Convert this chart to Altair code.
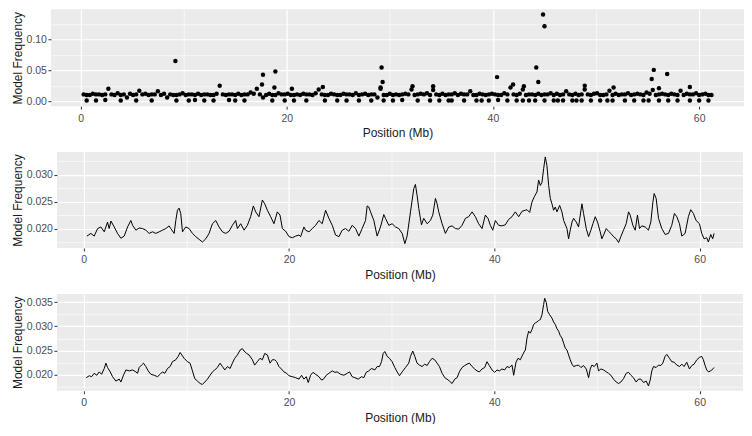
import altair as alt
import pandas as pd

FONT = "Liberation Sans"

X_MAJOR = [0, 20, 40, 60]
X_MINOR = [10, 30, 50]

# ---------------- panel 1 : per-SNP model frequency (points) ----------------
SNP_POS = [
    0.3, 0.6, 0.9, 1.2, 1.5, 1.8, 2.1, 2.4, 2.7, 3.0,
    3.3, 3.6, 3.9, 4.2, 4.5, 4.8, 5.1, 5.4, 5.7, 6.0,
    6.3, 6.6, 6.9, 7.2, 7.5, 7.8, 8.1, 8.4, 8.7, 9.0,
    9.3, 9.6, 9.9, 10.2, 10.5, 10.8, 11.1, 11.4, 11.7, 12.0,
    12.3, 12.6, 12.9, 13.2, 13.5, 13.8, 14.1, 14.4, 14.7, 15.0,
    15.3, 15.6, 15.9, 16.2, 16.5, 16.8, 17.1, 17.4, 17.7, 18.0,
    18.3, 18.6, 18.9, 19.2, 19.5, 19.8, 20.1, 20.4, 20.7, 21.0,
    21.3, 21.6, 21.9, 22.2, 22.5, 22.8, 23.1, 23.4, 23.7, 24.0,
    24.3, 24.6, 24.9, 25.2, 25.5, 25.8, 26.1, 26.4, 26.7, 27.0,
    27.3, 27.6, 27.9, 28.2, 28.5, 28.8, 29.1, 29.4, 29.7, 30.0,
    30.3, 30.6, 30.9, 31.2, 31.5, 31.8, 32.1, 32.4, 32.7, 33.0,
    33.3, 33.6, 33.9, 34.2, 34.5, 34.8, 35.1, 35.4, 35.7, 36.0,
    36.3, 36.6, 36.9, 37.2, 37.5, 37.8, 38.1, 38.4, 38.7, 39.0,
    39.3, 39.6, 39.9, 40.2, 40.5, 40.8, 41.1, 41.4, 41.7, 42.0,
    42.3, 42.6, 42.9, 43.2, 43.5, 43.8, 44.1, 44.4, 44.7, 45.0,
    45.3, 45.6, 45.9, 46.2, 46.5, 46.8, 47.1, 47.4, 47.7, 48.0,
    48.3, 48.6, 48.9, 49.2, 49.5, 49.8, 50.1, 50.4, 50.7, 51.0,
    51.3, 51.6, 51.9, 52.2, 52.5, 52.8, 53.1, 53.4, 53.7, 54.0,
    54.3, 54.6, 54.9, 55.2, 55.5, 55.8, 56.1, 56.4, 56.7, 57.0,
    57.3, 57.6, 57.9, 58.2, 58.5, 58.8, 59.1, 59.4, 59.7, 60.0,
    60.3, 60.6, 60.9, 61.2,
]
SNP_FREQ = [
    0.011, 0.010, 0.010, 0.012, 0.011, 0.011, 0.010, 0.011, 0.020, 0.011,
    0.010, 0.013, 0.010, 0.011, 0.006, 0.012, 0.010, 0.011, 0.017, 0.011,
    0.012, 0.010, 0.011, 0.011, 0.016, 0.010, 0.012, 0.006, 0.011, 0.010,
    0.010, 0.011, 0.013, 0.010, 0.011, 0.011, 0.010, 0.012, 0.010, 0.011,
    0.011, 0.010, 0.010, 0.012, 0.025, 0.011, 0.010, 0.011, 0.011, 0.010,
    0.012, 0.010, 0.011, 0.011, 0.014, 0.012, 0.020, 0.011, 0.006, 0.010,
    0.012, 0.010, 0.010, 0.013, 0.011, 0.011, 0.012, 0.010, 0.010, 0.011,
    0.010, 0.012, 0.011, 0.011, 0.010, 0.013, 0.019, 0.011, 0.010, 0.010,
    0.012, 0.011, 0.010, 0.010, 0.012, 0.011, 0.011, 0.010, 0.013, 0.010,
    0.011, 0.012, 0.010, 0.011, 0.011, 0.006, 0.020, 0.010, 0.010, 0.012,
    0.010, 0.011, 0.010, 0.011, 0.012, 0.011, 0.019, 0.010, 0.011, 0.012,
    0.011, 0.013, 0.010, 0.018, 0.011, 0.010, 0.012, 0.010, 0.011, 0.011,
    0.013, 0.010, 0.012, 0.011, 0.011, 0.016, 0.010, 0.010, 0.012, 0.011,
    0.010, 0.011, 0.012, 0.011, 0.010, 0.010, 0.013, 0.011, 0.022, 0.011,
    0.010, 0.012, 0.019, 0.010, 0.011, 0.011, 0.010, 0.012, 0.010, 0.011,
    0.011, 0.013, 0.010, 0.012, 0.010, 0.011, 0.016, 0.011, 0.010, 0.012,
    0.010, 0.011, 0.019, 0.011, 0.010, 0.012, 0.013, 0.010, 0.010, 0.011,
    0.017, 0.010, 0.012, 0.010, 0.011, 0.011, 0.013, 0.010, 0.011, 0.012,
    0.011, 0.010, 0.014, 0.012, 0.018, 0.010, 0.011, 0.012, 0.011, 0.010,
    0.012, 0.011, 0.010, 0.017, 0.010, 0.012, 0.011, 0.011, 0.013, 0.010,
    0.011, 0.012, 0.010, 0.010,
]
# SNPs sitting near zero (the lower row of dots)
SNP_LOW = [
    (0.6, 0.001), (1.5, 0.001), (2.4, 0.002), (3.9, 0.001), (5.4, 0.001),
    (6.9, 0.001), (9.3, 0.001), (10.5, 0.001), (11.1, 0.002), (12.0, 0.001),
    (12.9, 0.001), (14.4, 0.002), (15.0, 0.001), (15.9, 0.001), (18.6, 0.001),
    (19.8, 0.001), (20.7, 0.001), (21.9, 0.001), (23.7, 0.001), (24.9, 0.001),
    (25.8, 0.001), (27.0, 0.001), (28.2, 0.001), (29.4, 0.001), (30.3, 0.001),
    (31.2, 0.002), (32.7, 0.001), (33.9, 0.001), (34.8, 0.001), (35.7, 0.001),
    (36.0, 0.001), (37.2, 0.001), (38.4, 0.001), (38.9, 0.001), (39.6, 0.001),
    (40.5, 0.002), (41.4, 0.001), (42.3, 0.001), (42.9, 0.001), (43.5, 0.001),
    (44.1, 0.001), (45.0, 0.001), (45.9, 0.001), (46.3, 0.001), (46.8, 0.001),
    (47.7, 0.001), (48.1, 0.001), (48.6, 0.001), (49.5, 0.001), (50.4, 0.001),
    (51.1, 0.001), (51.6, 0.001), (52.8, 0.001), (53.7, 0.001), (54.6, 0.001),
    (55.1, 0.001), (56.1, 0.001), (57.0, 0.001), (57.9, 0.001), (59.1, 0.001),
    (60.0, 0.001), (60.9, 0.001),
]
SNP_EXTRA = [
    (9.2, 0.065), (17.7, 0.0426), (17.6, 0.027), (18.9, 0.048), (18.8, 0.022),
    (29.2, 0.0543), (29.3, 0.031), (29.1, 0.022), (40.4, 0.0389), (41.95, 0.027),
    (43.0, 0.024), (44.2, 0.0543), (44.4, 0.031), (44.86, 0.140), (45.0, 0.121),
    (55.4, 0.036), (55.6, 0.0506), (56.9, 0.044), (32.2, 0.024), (34.2, 0.024),
    (23.5, 0.023), (48.9, 0.025), (51.7, 0.022), (56.1, 0.021), (20.5, 0.020),
    (59.1, 0.023),
]

# ---------------- panel 2 : smoothed frequency (narrow window) ----------------
PANEL2 = [
    (0.31, 0.0186), (0.70, 0.0191), (1.02, 0.0186), (1.35, 0.0200), (1.67, 0.0203),
    (2.00, 0.0194), (2.32, 0.0212), (2.48, 0.0200), (2.65, 0.0214), (2.97, 0.0203),
    (3.29, 0.0191), (3.62, 0.0182), (3.94, 0.0186), (4.27, 0.0203), (4.59, 0.0215),
    (4.76, 0.0206), (5.08, 0.0197), (5.40, 0.0201), (5.73, 0.0200), (6.05, 0.0197),
    (6.37, 0.0191), (6.70, 0.0194), (7.02, 0.0191), (7.35, 0.0194), (7.67, 0.0197),
    (8.00, 0.0200), (8.32, 0.0205), (8.48, 0.0200), (8.81, 0.0191), (8.97, 0.0215),
    (9.13, 0.0234), (9.29, 0.0238), (9.45, 0.0228), (9.62, 0.0194), (9.94, 0.0203),
    (10.27, 0.0200), (10.59, 0.0191), (10.91, 0.0185), (11.24, 0.0180), (11.56, 0.0175),
    (11.89, 0.0181), (12.21, 0.0191), (12.54, 0.0209), (12.86, 0.0215), (13.18, 0.0203),
    (13.51, 0.0194), (13.83, 0.0191), (14.16, 0.0195), (14.48, 0.0206), (14.80, 0.0215),
    (14.97, 0.0200), (15.29, 0.0209), (15.62, 0.0197), (15.94, 0.0206), (16.26, 0.0222),
    (16.52, 0.0242), (16.75, 0.0231), (17.07, 0.0222), (17.40, 0.0253), (17.63, 0.0246),
    (17.89, 0.0234), (18.21, 0.0222), (18.53, 0.0209), (18.86, 0.0231), (19.12, 0.0225),
    (19.35, 0.0200), (19.67, 0.0195), (20.00, 0.0185), (20.32, 0.0183), (20.64, 0.0186),
    (20.97, 0.0188), (21.13, 0.0185),
    (21.45, 0.0203), (21.61, 0.0197), (21.94, 0.0194), (22.26, 0.0200), (22.59, 0.0206),
    (22.91, 0.0215), (23.23, 0.0209), (23.56, 0.0234), (23.88, 0.0219), (24.21, 0.0206),
    (24.53, 0.0188), (24.86, 0.0185), (25.18, 0.0197), (25.50, 0.0200), (25.83, 0.0195),
    (26.15, 0.0206), (26.48, 0.0200), (26.80, 0.0186), (27.12, 0.0200), (27.45, 0.0215),
    (27.61, 0.0242), (27.77, 0.0240), (27.94, 0.0231), (28.26, 0.0215), (28.58, 0.0186),
    (28.91, 0.0203), (29.23, 0.0226), (29.39, 0.0219), (29.72, 0.0206), (30.04, 0.0209),
    (30.37, 0.0203), (30.69, 0.0200), (31.02, 0.0191), (31.28, 0.0172), (31.50, 0.0186),
    (31.83, 0.0231), (32.15, 0.0274), (32.31, 0.0282), (32.47, 0.0262), (32.64, 0.0237),
    (32.90, 0.0207), (33.12, 0.0219), (33.45, 0.0209), (33.77, 0.0215), (34.00, 0.0225),
    (34.26, 0.0256), (34.42, 0.0246), (34.58, 0.0231), (34.91, 0.0209), (35.23, 0.0191),
    (35.56, 0.0203), (35.88, 0.0205), (36.20, 0.0200), (36.53, 0.0199), (36.85, 0.0206),
    (37.18, 0.0219), (37.50, 0.0222), (37.83, 0.0231), (38.15, 0.0222), (38.47, 0.0209),
    (38.80, 0.0200), (39.12, 0.0225), (39.38, 0.0219), (39.61, 0.0206), (39.84, 0.0197),
    (40.10, 0.0215), (40.42, 0.0206), (40.74, 0.0205), (41.07, 0.0207), (41.39, 0.0217),
    (41.72, 0.0222), (42.04, 0.0231), (42.37, 0.0222), (42.69, 0.0232), (43.01, 0.0234),
    (43.18, 0.0235), (43.44, 0.0230), (43.66, 0.0249), (43.89, 0.0259), (44.15, 0.0268),
    (44.31, 0.0290), (44.48, 0.0280), (44.64, 0.0286), (44.80, 0.0311), (44.96, 0.0333),
    (45.12, 0.0317), (45.29, 0.0280), (45.45, 0.0256), (45.61, 0.0246), (45.77, 0.0234),
    (45.93, 0.0240), (46.10, 0.0231), (46.36, 0.0243), (46.58, 0.0231), (46.75, 0.0215),
    (47.07, 0.0200), (47.23, 0.0181), (47.39, 0.0197), (47.56, 0.0212), (47.72, 0.0219),
    (47.98, 0.0212), (48.20, 0.0203), (48.53, 0.0246), (48.69, 0.0228), (48.95, 0.0200),
    (49.18, 0.0185), (49.40, 0.0197), (49.60, 0.0209), (49.83, 0.0222), (50.05, 0.0212),
    (50.31, 0.0194), (50.47, 0.0181), (50.64, 0.0188), (50.90, 0.0200), (51.12, 0.0195),
    (51.35, 0.0191), (51.61, 0.0185), (51.87, 0.0181), (52.10, 0.0174), (52.32, 0.0185),
    (52.58, 0.0197), (52.84, 0.0209), (53.07, 0.0231), (53.23, 0.0225), (53.49, 0.0206),
    (53.72, 0.0197), (53.94, 0.0225), (54.14, 0.0200), (54.36, 0.0205), (54.69, 0.0203),
    (55.01, 0.0197), (55.24, 0.0212), (55.44, 0.0249), (55.57, 0.0265), (55.76, 0.0256),
    (55.99, 0.0219), (56.31, 0.0200), (56.64, 0.0189), (56.96, 0.0191), (57.28, 0.0206),
    (57.54, 0.0228), (57.77, 0.0222), (58.03, 0.0209), (58.26, 0.0186), (58.58, 0.0191),
    (58.90, 0.0222), (59.13, 0.0235), (59.39, 0.0228), (59.65, 0.0215), (59.98, 0.0209),
    (60.20, 0.0191), (60.43, 0.0181), (60.69, 0.0183), (60.85, 0.0175), (61.08, 0.0189),
    (61.27, 0.0181), (61.40, 0.0191),
]

# ---------------- panel 3 : smoothed frequency (wide window) ----------------
PANEL3 = [
    (0.25, 0.0194), (0.54, 0.0198), (0.77, 0.0196), (1.02, 0.0203), (1.28, 0.0199),
    (1.51, 0.0206), (1.74, 0.0201), (2.00, 0.0213), (2.16, 0.0224), (2.32, 0.0215),
    (2.58, 0.0206), (2.81, 0.0196), (3.13, 0.0187), (3.46, 0.0191), (3.62, 0.0185),
    (3.87, 0.0199), (4.11, 0.0210), (4.43, 0.0208), (4.75, 0.0210), (5.08, 0.0206),
    (5.24, 0.0203), (5.40, 0.0215), (5.63, 0.0220), (5.82, 0.0224), (6.05, 0.0217),
    (6.28, 0.0208), (6.54, 0.0201), (6.86, 0.0199), (7.19, 0.0196), (7.44, 0.0201),
    (7.67, 0.0206), (7.90, 0.0203), (8.16, 0.0213), (8.42, 0.0217), (8.64, 0.0227),
    (8.97, 0.0231), (9.20, 0.0238), (9.39, 0.0246), (9.55, 0.0241), (9.78, 0.0234),
    (10.10, 0.0227), (10.36, 0.0224), (10.59, 0.0208), (10.82, 0.0192), (11.08, 0.0187),
    (11.34, 0.0182), (11.56, 0.0180), (11.79, 0.0185), (12.05, 0.0191), (12.31, 0.0199),
    (12.54, 0.0206), (12.76, 0.0210), (13.02, 0.0215), (13.28, 0.0224), (13.51, 0.0217),
    (13.74, 0.0210), (14.00, 0.0217), (14.26, 0.0213), (14.48, 0.0224), (14.71, 0.0234),
    (14.97, 0.0241), (15.23, 0.0251), (15.45, 0.0254), (15.62, 0.0249), (15.88, 0.0244),
    (16.10, 0.0241), (16.43, 0.0231), (16.65, 0.0220), (16.91, 0.0227), (17.17, 0.0234),
    (17.40, 0.0231), (17.63, 0.0244), (17.89, 0.0241), (18.15, 0.0224), (18.37, 0.0231),
    (18.60, 0.0231), (18.79, 0.0227), (19.02, 0.0217), (19.25, 0.0212), (19.50, 0.0206),
    (19.77, 0.0203), (19.99, 0.0198), (20.32, 0.0196), (20.64, 0.0194), (20.97, 0.0191),
    (21.22, 0.0199), (21.45, 0.0191), (21.68, 0.0196), (21.87, 0.0184), (22.10, 0.0199),
    (22.33, 0.0205), (22.59, 0.0201), (22.91, 0.0196), (23.17, 0.0189), (23.40, 0.0192),
    (23.62, 0.0199), (23.88, 0.0203), (24.21, 0.0208), (24.47, 0.0205), (24.69, 0.0206),
    (25.02, 0.0201), (25.34, 0.0199), (25.67, 0.0203), (25.89, 0.0206), (26.15, 0.0196),
    (26.41, 0.0194), (26.74, 0.0191), (27.06, 0.0196), (27.29, 0.0194), (27.51, 0.0205),
    (27.77, 0.0208), (28.03, 0.0213), (28.36, 0.0210), (28.58, 0.0217), (28.81, 0.0217),
    (29.01, 0.0227), (29.17, 0.0244), (29.33, 0.0248), (29.56, 0.0238), (29.78, 0.0234),
    (30.04, 0.0227), (30.30, 0.0215), (30.53, 0.0206), (30.76, 0.0198), (31.02, 0.0206),
    (31.34, 0.0215), (31.66, 0.0224), (31.83, 0.0238), (32.05, 0.0249), (32.25, 0.0238),
    (32.47, 0.0224), (32.70, 0.0220), (32.96, 0.0217), (33.22, 0.0222), (33.45, 0.0219),
    (33.67, 0.0227), (33.93, 0.0234), (34.19, 0.0231), (34.42, 0.0224), (34.65, 0.0217),
    (34.91, 0.0203), (35.17, 0.0194), (35.39, 0.0191), (35.62, 0.0187), (35.88, 0.0182),
    (36.14, 0.0191), (36.37, 0.0194), (36.59, 0.0206), (36.85, 0.0215), (37.11, 0.0219),
    (37.34, 0.0222), (37.57, 0.0224), (37.83, 0.0217), (38.08, 0.0212), (38.31, 0.0208),
    (38.54, 0.0206), (38.80, 0.0212), (39.06, 0.0215), (39.28, 0.0227), (39.51, 0.0219),
    (39.77, 0.0210), (40.03, 0.0205), (40.26, 0.0210), (40.48, 0.0208), (40.74, 0.0212),
    (41.00, 0.0210), (41.23, 0.0217), (41.46, 0.0215), (41.72, 0.0220), (41.88, 0.0199),
    (42.11, 0.0226), (42.30, 0.0234), (42.53, 0.0231), (42.75, 0.0241), (42.95, 0.0249),
    (43.02, 0.0251), (43.18, 0.0276), (43.34, 0.0290), (43.50, 0.0286), (43.66, 0.0293),
    (43.83, 0.0304), (43.99, 0.0307), (44.15, 0.0309), (44.31, 0.0312), (44.48, 0.0314),
    (44.64, 0.0324), (44.80, 0.0345), (44.90, 0.0358), (45.06, 0.0349), (45.19, 0.0331),
    (45.38, 0.0324), (45.61, 0.0317), (45.77, 0.0309), (45.93, 0.0304), (46.10, 0.0295),
    (46.26, 0.0290), (46.42, 0.0281), (46.58, 0.0276), (46.75, 0.0265), (46.91, 0.0255),
    (47.07, 0.0251), (47.23, 0.0241), (47.39, 0.0231), (47.56, 0.0222), (47.72, 0.0217),
    (47.98, 0.0219), (48.20, 0.0220), (48.43, 0.0215), (48.69, 0.0219), (48.95, 0.0212),
    (49.18, 0.0194), (49.34, 0.0212), (49.50, 0.0220), (49.73, 0.0217), (49.99, 0.0224),
    (50.15, 0.0208), (50.38, 0.0212), (50.64, 0.0210), (50.90, 0.0206), (51.12, 0.0203),
    (51.35, 0.0199), (51.61, 0.0191), (51.87, 0.0185), (52.10, 0.0182), (52.32, 0.0185),
    (52.58, 0.0192), (52.84, 0.0203), (53.07, 0.0205), (53.30, 0.0199), (53.55, 0.0194),
    (53.81, 0.0185), (54.04, 0.0191), (54.27, 0.0191), (54.53, 0.0184), (54.79, 0.0187),
    (55.01, 0.0177), (55.18, 0.0189), (55.34, 0.0208), (55.50, 0.0217), (55.76, 0.0215),
    (55.99, 0.0220), (56.21, 0.0219), (56.41, 0.0224), (56.63, 0.0238), (56.80, 0.0242),
    (57.06, 0.0234), (57.28, 0.0227), (57.51, 0.0226), (57.77, 0.0220), (58.03, 0.0217),
    (58.26, 0.0222), (58.48, 0.0217), (58.74, 0.0226), (59.00, 0.0212), (59.23, 0.0219),
    (59.46, 0.0222), (59.72, 0.0231), (59.98, 0.0236), (60.20, 0.0238), (60.36, 0.0231),
    (60.53, 0.0219), (60.69, 0.0210), (60.85, 0.0206), (61.08, 0.0208), (61.27, 0.0212),
    (61.40, 0.0215),
]

# axis breaks (major = labelled, minor = thin grid only)
Y1_MAJOR = [0.0, 0.05, 0.10]
Y1_MINOR = [0.025, 0.075, 0.125]
Y2_MAJOR = [0.020, 0.025, 0.030]
Y2_MINOR = [0.0175, 0.0225, 0.0275, 0.0325]
Y3_MAJOR = [0.020, 0.025, 0.030, 0.035]
Y3_MINOR = [0.0175, 0.0225, 0.0275, 0.0325]


def is_minor(vals):
    return "(" + " || ".join(f"datum.value === {repr(v)}" for v in vals) + ")"


def make_axes(ymaj, ymin, yfmt):
    xt = is_minor(X_MINOR)
    yt = is_minor(ymin)
    common = dict(
        grid=True, gridColor="white", domain=False,
        tickColor="#333333", tickSize=3, tickWidth=1,
        labelColor="#4D4D4D", labelFont=FONT, labelFontSize=10.5,
        titleFont=FONT, titleFontSize=12, titleFontWeight="normal",
        titleColor="#1A1A1A", labelOverlap=False, labelFlush=False,
    )
    xaxis = alt.Axis(
        values=sorted(X_MAJOR + X_MINOR), format="d",
        labelExpr=f"{xt} ? '' : datum.label",
        gridWidth={"condition": {"test": xt, "value": 0.6}, "value": 1.2},
        tickOpacity={"condition": {"test": xt, "value": 0}, "value": 1},
        labelPadding=4, title="Position (Mb)", titlePadding=4, **common,
    )
    yaxis = alt.Axis(
        values=sorted(ymaj + ymin), format=yfmt,
        labelExpr=f"{yt} ? '' : datum.label",
        gridWidth={"condition": {"test": yt, "value": 0.6}, "value": 1.2},
        tickOpacity={"condition": {"test": yt, "value": 0}, "value": 1},
        labelPadding=1.5, title="Model Frequency", titlePadding=1.3, **common,
    )
    return xaxis, yaxis


def panel(df, kind, xdom, ydom, ymaj, ymin, yfmt, w, h):
    xaxis, yaxis = make_axes(ymaj, ymin, yfmt)
    base = alt.Chart(df)
    if kind == "point":
        m = base.mark_circle(size=20, color="black", opacity=1)
    else:
        m = base.mark_line(color="black", strokeWidth=1)
    return m.encode(
        x=alt.X("pos:Q", scale=alt.Scale(domain=xdom, nice=False, zero=False), axis=xaxis),
        y=alt.Y("freq:Q", scale=alt.Scale(domain=ydom, nice=False, zero=False), axis=yaxis),
    ).properties(width=w, height=h,
                 view=alt.ViewBackground(fill="#EBEBEB", strokeWidth=0))


def spacer():
    # invisible 1px cell so every panel sits flush-left on its axis title
    return alt.Chart(pd.DataFrame({"s": [0]})).mark_point(
        size=0, strokeWidth=0, opacity=0
    ).encode(
        x=alt.value(0), y=alt.value(0)
    ).properties(width=1, height=1,
                 view=alt.ViewBackground(fill="transparent", stroke="transparent"))


df1 = pd.concat([
    pd.DataFrame({"pos": SNP_POS, "freq": SNP_FREQ}),
    pd.DataFrame(SNP_LOW, columns=["pos", "freq"]),
    pd.DataFrame(SNP_EXTRA, columns=["pos", "freq"]),
], ignore_index=True)
df2 = pd.DataFrame(PANEL2, columns=["pos", "freq"])
df3 = pd.DataFrame(PANEL3, columns=["pos", "freq"])

p1 = panel(df1, "point", [-2.87, 64.35], [-0.008, 0.1485], Y1_MAJOR, Y1_MINOR, ".2f",
           694, 97)
p2 = panel(df2, "line", [-2.61, 64.22], [0.0164, 0.0342], Y2_MAJOR, Y2_MINOR, ".3f",
           687, 96)
p3 = panel(df3, "line", [-2.61, 64.22], [0.0167, 0.0367], Y3_MAJOR, Y3_MINOR, ".3f",
           687, 97)

rows = [alt.hconcat(spacer(), p, spacing=0) for p in (p1, p2, p3)]

chart = alt.concat(*rows, columns=1, spacing=12).properties(
    padding={"left": 0, "top": 0, "right": 0, "bottom": 0}
)

chart.save("out.html", embed_options={"renderer": "svg", "actions": False})
